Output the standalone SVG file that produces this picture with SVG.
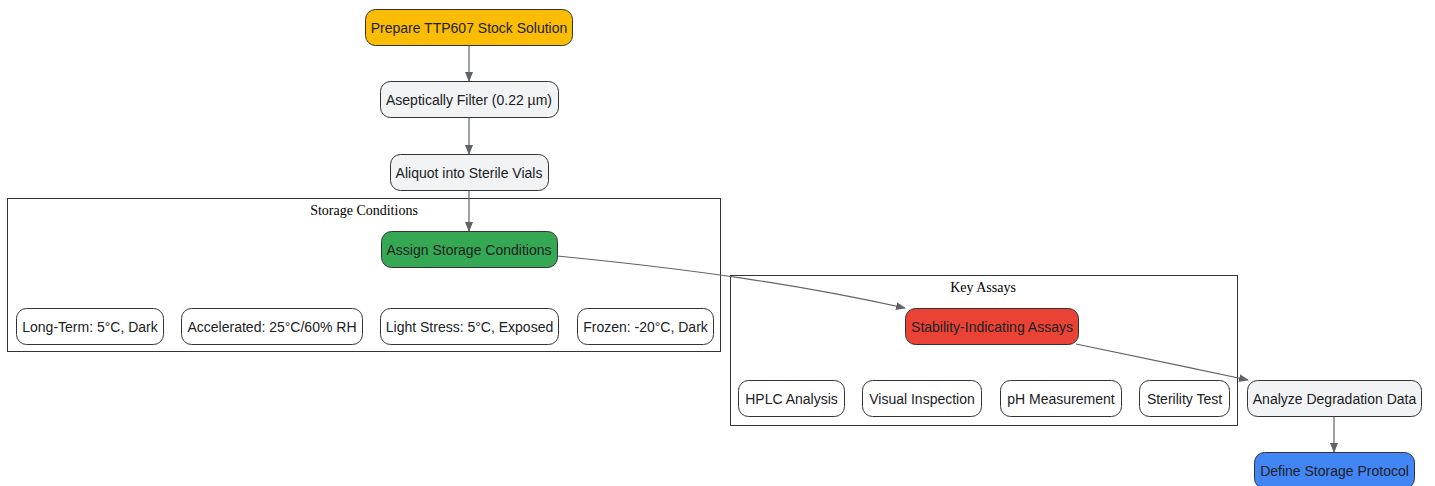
<svg xmlns="http://www.w3.org/2000/svg" width="1435" height="486" viewBox="0 0 1435 486">
<defs>
<marker id="ah" markerWidth="10" markerHeight="8" refX="9" refY="4" orient="auto" markerUnits="userSpaceOnUse">
<path d="M0,0 L10,4 L0,8 Z" fill="#5f6368"/>
</marker>
<style>
.n rect{stroke:#333;stroke-width:1}
.n text{font-family:"Liberation Sans",Arial,sans-serif;font-size:14px;fill:#202124;text-anchor:middle;dominant-baseline:central}
.c{fill:none;stroke:#333;stroke-width:1}
.ct{font-family:"Liberation Serif","Times New Roman",serif;font-size:14px;fill:#000;text-anchor:middle}
.e{fill:none;stroke:#5f6368;stroke-width:1.2;marker-end:url(#ah)}
</style>
</defs>
<rect width="1435" height="486" fill="#fff"/>
<g id="clusters">
<rect class="c" x="7.5" y="198.5" width="713" height="153"/>
<text class="ct" x="364" y="215">Storage Conditions</text>
<rect class="c" x="730.5" y="275.5" width="507" height="150"/>
<text class="ct" x="983" y="292">Key Assays</text>
</g>
<g id="connectors">
<path class="e" d="M469,45 L469,81"/>
<path class="e" d="M469,117 L469,154"/>
<path class="e" d="M469,190 L469,231"/>
<path class="e" d="M557,256 C700,270 800,285 905,308"/>
<path class="e" d="M1076,344 C1140,357 1190,368 1248,380"/>
<path class="e" d="M1334,416 L1334,452"/>
</g>
<g id="n1" class="n"><rect x="365.5" y="9.5" width="207" height="36" rx="10" fill="#FBBC04"/><text x="469" y="27.5">Prepare TTP607 Stock Solution</text></g>
<g id="n2" class="n"><rect x="380.5" y="81.5" width="178" height="36" rx="10" fill="#F1F3F4"/><text x="469" y="99.5">Aseptically Filter (0.22 µm)</text></g>
<g id="n3" class="n"><rect x="390.5" y="154.5" width="158" height="36" rx="10" fill="#F1F3F4"/><text x="469" y="172.5">Aliquot into Sterile Vials</text></g>
<g id="n4" class="n"><rect x="381.5" y="231.5" width="176" height="36" rx="10" fill="#34A853"/><text x="469" y="249.5">Assign Storage Conditions</text></g>
<g id="n5" class="n"><rect x="16.5" y="308.5" width="147" height="36" rx="10" fill="#fff"/><text x="90" y="326.5">Long-Term: 5°C, Dark</text></g>
<g id="n6" class="n"><rect x="181.5" y="308.5" width="181" height="36" rx="10" fill="#fff"/><text x="272" y="326.5">Accelerated: 25°C/60% RH</text></g>
<g id="n7" class="n"><rect x="380.5" y="308.5" width="178" height="36" rx="10" fill="#fff"/><text x="469.5" y="326.5">Light Stress: 5°C, Exposed</text></g>
<g id="n8" class="n"><rect x="577.5" y="308.5" width="136" height="36" rx="10" fill="#fff"/><text x="645.5" y="326.5">Frozen: -20°C, Dark</text></g>
<g id="n9" class="n"><rect x="905.5" y="308.5" width="173" height="36" rx="10" fill="#EA4335"/><text x="992" y="326.5">Stability-Indicating Assays</text></g>
<g id="n10" class="n"><rect x="738.5" y="380.5" width="106" height="36" rx="10" fill="#fff"/><text x="791.5" y="398.5">HPLC Analysis</text></g>
<g id="n11" class="n"><rect x="862.5" y="380.5" width="119" height="36" rx="10" fill="#fff"/><text x="922" y="398.5">Visual Inspection</text></g>
<g id="n12" class="n"><rect x="1000.5" y="380.5" width="121" height="36" rx="10" fill="#fff"/><text x="1061" y="398.5">pH Measurement</text></g>
<g id="n13" class="n"><rect x="1139.5" y="380.5" width="90" height="36" rx="10" fill="#fff"/><text x="1184.5" y="398.5">Sterility Test</text></g>
<g id="n14" class="n"><rect x="1247.5" y="380.5" width="174" height="36" rx="10" fill="#F1F3F4"/><text x="1334.5" y="398.5">Analyze Degradation Data</text></g>
<g id="n15" class="n"><rect x="1254.5" y="452.5" width="160" height="36" rx="10" fill="#4285F4"/><text x="1334.5" y="470.5">Define Storage Protocol</text></g>
</svg>
